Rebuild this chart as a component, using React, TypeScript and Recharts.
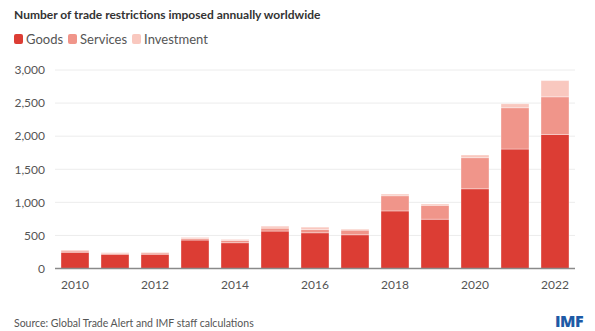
import React from "react";
import { BarChart, Bar, XAxis, YAxis, CartesianGrid } from "recharts";

const years = ["2010","2011","2012","2013","2014","2015","2016","2017","2018","2019","2020","2021","2022"];
const goods = [245, 215, 215, 430, 390, 565, 540, 510, 870, 745, 1205, 1805, 2025];
const services = [20, 15, 20, 25, 35, 45, 50, 70, 230, 210, 470, 625, 570];
const investment = [15, 10, 10, 15, 15, 30, 35, 15, 25, 20, 40, 60, 245];
const yTicks = [0, 500, 1000, 1500, 2000, 2500, 3000];

const data = years.map((y, i) => ({
  year: y,
  goods: goods[i],
  services: services[i],
  investment: investment[i],
}));

const FONT = "Lato, 'Noto Sans', sans-serif";
const C_GOODS = "#dc3d34";
const C_SERV = "#f0958a";
const C_INV = "#f9c8bf";

const fmt = (v: number) => v.toLocaleString("en-US");

function LegendItem({ color, label }: { color: string; label: string }) {
  return (
    <span style={{ display: "inline-flex", alignItems: "center", marginRight: 5 }}>
      <span style={{ width: 9, height: 10, background: color, borderRadius: 2, display: "inline-block", marginRight: 3 }} />
      <span>{label}</span>
    </span>
  );
}

export default function App() {
  return (
    <div style={{ position: "absolute", left: 0, top: 0, width: 595, height: 331, background: "#fff", fontFamily: FONT, overflow: "hidden" }}>
      <div style={{ position: "absolute", left: 14, top: 7, fontSize: 12, fontWeight: 700, color: "#333" }}>
        Number of trade restrictions imposed annually worldwide
      </div>
      <div style={{ position: "absolute", left: 14, top: 31, fontSize: 13, color: "#555", display: "flex" }}>
        <LegendItem color={C_GOODS} label="Goods" />
        <LegendItem color={C_SERV} label="Services" />
        <LegendItem color={C_INV} label="Investment" />
      </div>
      <div style={{ position: "absolute", left: 0, top: 0 }}>
        <BarChart width={595} height={331} data={data} margin={{ top: 70, right: 20, bottom: 32.5, left: 0 }} barCategoryGap="15%">
          <CartesianGrid vertical={false} stroke="#ececec" />
          <XAxis
            dataKey="year"
            interval={1}
            tickLine={false}
            tickSize={0}
            tickMargin={12}
            height={30}
            axisLine={{ stroke: "#8a8a8a", strokeWidth: 1.5 }}
            tick={{ fill: "#555", fontSize: 12, fontFamily: FONT }}
          />
          <YAxis
            domain={[0, 3000]}
            ticks={yTicks}
            tickFormatter={fmt}
            width={55}
            tickLine={false}
            tickSize={0}
            tickMargin={10}
            axisLine={false}
            tick={{ fill: "#555", fontSize: 12, fontFamily: FONT }}
          />
          <Bar dataKey="goods" stackId="a" fill={C_GOODS} stroke="#fff" strokeOpacity={0.35} strokeWidth={1} isAnimationActive={false} />
          <Bar dataKey="services" stackId="a" fill={C_SERV} stroke="#fff" strokeOpacity={0.35} strokeWidth={1} isAnimationActive={false} />
          <Bar dataKey="investment" stackId="a" fill={C_INV} stroke="#fff" strokeOpacity={0.35} strokeWidth={1} isAnimationActive={false} />
        </BarChart>
      </div>
      <div style={{ position: "absolute", left: 14, top: 317, fontSize: 10.5, color: "#555" }}>
        Source: Global Trade Alert and IMF staff calculations
      </div>
      <div style={{ position: "absolute", left: 555, top: 313, fontSize: 16, lineHeight: "16px", fontWeight: 900, color: "#1d5aa6", fontFamily: "'Open Sans', Lato, sans-serif", letterSpacing: -0.5 }}>
        IMF
      </div>
    </div>
  );
}
